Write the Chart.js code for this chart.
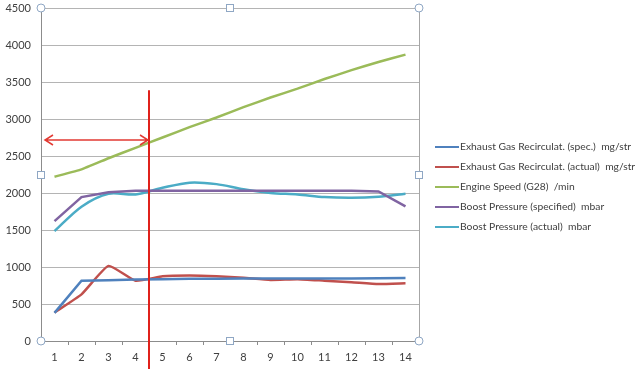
<!DOCTYPE html>
<html>
<head>
<meta charset="utf-8">
<script src="https://cdn.jsdelivr.net/npm/chart.js@4.4.1/dist/chart.umd.min.js"></script>
<style>
  html, body { margin: 0; padding: 0; background: #fff; }
  #wrap { width: 640px; height: 369px; }
</style>
</head>
<body>
<div id="wrap"><canvas id="chart" width="640" height="369"></canvas></div>
<script>
// data
const labels = ["1","2","3","4","5","6","7","8","9","10","11","12","13","14"];
const egrSpec   = [380, 815, 820, 830, 835, 840, 840, 845, 845, 845, 845, 845, 848, 850];
const egrActual = [385, 630, 1015, 815, 875, 885, 875, 855, 825, 835, 815, 795, 770, 780];
const engineSpeed = [2220, 2320, 2470, 2610, 2750, 2890, 3020, 3160, 3290, 3410, 3540, 3660, 3770, 3870];
const boostSpec   = [1620, 1945, 2010, 2030, 2030, 2030, 2030, 2030, 2030, 2030, 2030, 2030, 2020, 1820];
const boostActual = [1485, 1815, 1990, 1980, 2070, 2140, 2120, 2050, 2000, 1980, 1945, 1935, 1950, 1990];
const yTicks = [0, 500, 1000, 1500, 2000, 2500, 3000, 3500, 4000, 4500];

// annotation (red marker between sample 4 and 5)
const markerIndex = 3.5;
const markerTop = 3390;
const arrowValue = 2716;

const FONT = "Lato, 'Open Sans', sans-serif";

const series = [
  { label: "Exhaust Gas Recirculat. (spec.)  mg/str", data: egrSpec, color: "#4f81bd", tension: 0 },
  { label: "Exhaust Gas Recirculat. (actual)  mg/str", data: egrActual, color: "#c0504d", tension: 0.15 },
  { label: "Engine Speed (G28)  /min", data: engineSpeed, color: "#9bbb59", tension: 0.1 },
  { label: "Boost Pressure (specified)  mbar", data: boostSpec, color: "#8064a2", tension: 0 },
  { label: "Boost Pressure (actual)  mbar", data: boostActual, color: "#4bacc6", tension: 0.3 }
];

const extras = {
  id: "extras",
  afterDraw(chart) {
    const ctx = chart.ctx;
    const a = chart.chartArea;
    const x = chart.scales.x, y = chart.scales.y;
    ctx.save();

    // right frame line
    ctx.strokeStyle = "#a6a6a6";
    ctx.lineWidth = 1;
    ctx.beginPath();
    ctx.moveTo(Math.round(a.right) + 0.5, a.top);
    ctx.lineTo(Math.round(a.right) + 0.5, a.bottom);
    ctx.stroke();

    // red marker line
    const mx = x.getPixelForValue(markerIndex);
    ctx.strokeStyle = "#e0211b";
    ctx.lineWidth = 2;
    ctx.beginPath();
    ctx.moveTo(mx, y.getPixelForValue(markerTop));
    ctx.lineTo(mx, chart.height);
    ctx.stroke();

    // double arrow
    const ay = Math.round(y.getPixelForValue(arrowValue));
    const ax0 = a.left + 4, ax1 = mx - 1;
    ctx.lineWidth = 1.5;
    ctx.strokeStyle = "#e23a33";
    ctx.beginPath();
    ctx.moveTo(ax0, ay); ctx.lineTo(ax1, ay);
    ctx.moveTo(ax0 + 8, ay - 5); ctx.lineTo(ax0, ay); ctx.lineTo(ax0 + 8, ay + 5);
    ctx.moveTo(ax1 - 8, ay - 5); ctx.lineTo(ax1, ay); ctx.lineTo(ax1 - 8, ay + 5);
    ctx.stroke();

    // selection handles
    const midX = (a.left + a.right) / 2, midY = (a.top + a.bottom) / 2;
    ctx.strokeStyle = "#8fa7c4";
    ctx.fillStyle = "#ffffff";
    ctx.lineWidth = 1;
    [[a.left, a.top], [a.right, a.top], [a.left, a.bottom], [a.right, a.bottom]].forEach(p => {
      ctx.beginPath();
      ctx.arc(p[0], p[1], 4, 0, Math.PI * 2);
      ctx.fill(); ctx.stroke();
    });
    [[midX, a.top], [midX, a.bottom], [a.left, midY], [a.right, midY]].forEach(p => {
      ctx.fillRect(p[0] - 3.5, p[1] - 3.5, 7, 7);
      ctx.strokeRect(Math.round(p[0]) - 3.5, Math.round(p[1]) - 3.5, 7, 7);
    });

    // legend
    ctx.font = "10.3px " + FONT;
    ctx.textBaseline = "middle";
    ctx.fillStyle = "#404040";
    chart.data.datasets.forEach((ds, i) => {
      const ly = 147 + i * 20;
      ctx.strokeStyle = ds.borderColor;
      ctx.lineWidth = 2;
      ctx.beginPath();
      ctx.moveTo(435, ly); ctx.lineTo(459, ly);
      ctx.stroke();
      ctx.fillText(ds.label, 460, ly);
    });
    ctx.restore();
  }
};

function draw() {
  new Chart(document.getElementById("chart"), {
    type: "line",
    data: {
      labels: labels,
      datasets: series.map(s => ({
        label: s.label,
        data: s.data,
        borderColor: s.color,
        backgroundColor: s.color,
        borderWidth: 2.5,
        pointRadius: 0,
        tension: s.tension,
        fill: false
      }))
    },
    options: {
      responsive: false,
      animation: false,
      layout: { padding: { top: 8, right: 221, left: 0, bottom: 0 } },
      plugins: { legend: { display: false }, tooltip: { enabled: false } },
      scales: {
        x: {
          offset: true,
          grid: { offset: true, drawOnChartArea: false, drawTicks: true, tickLength: 4, color: "#8c8c8c" },
          border: { color: "#8c8c8c" },
          ticks: { color: "#404040", font: { family: FONT, size: 11 }, padding: 6, maxRotation: 0 },
          afterFit(scale) { scale.height = 28; }
        },
        y: {
          min: 0, max: 4500,
          afterBuildTicks(scale) { scale.ticks = yTicks.map(v => ({ value: v })); },
          grid: { color: "#b4b4b4", drawTicks: false },
          border: { color: "#8c8c8c" },
          ticks: { color: "#404040", font: { family: FONT, size: 11 }, padding: 10, callback: v => String(v) },
          afterFit(scale) { scale.width = 41; scale.paddingTop = 0; scale.paddingBottom = 0; }
        }
      }
    },
    plugins: [extras]
  });
}

document.fonts.load("11px Lato").then(draw, draw);
</script>
</body>
</html>
